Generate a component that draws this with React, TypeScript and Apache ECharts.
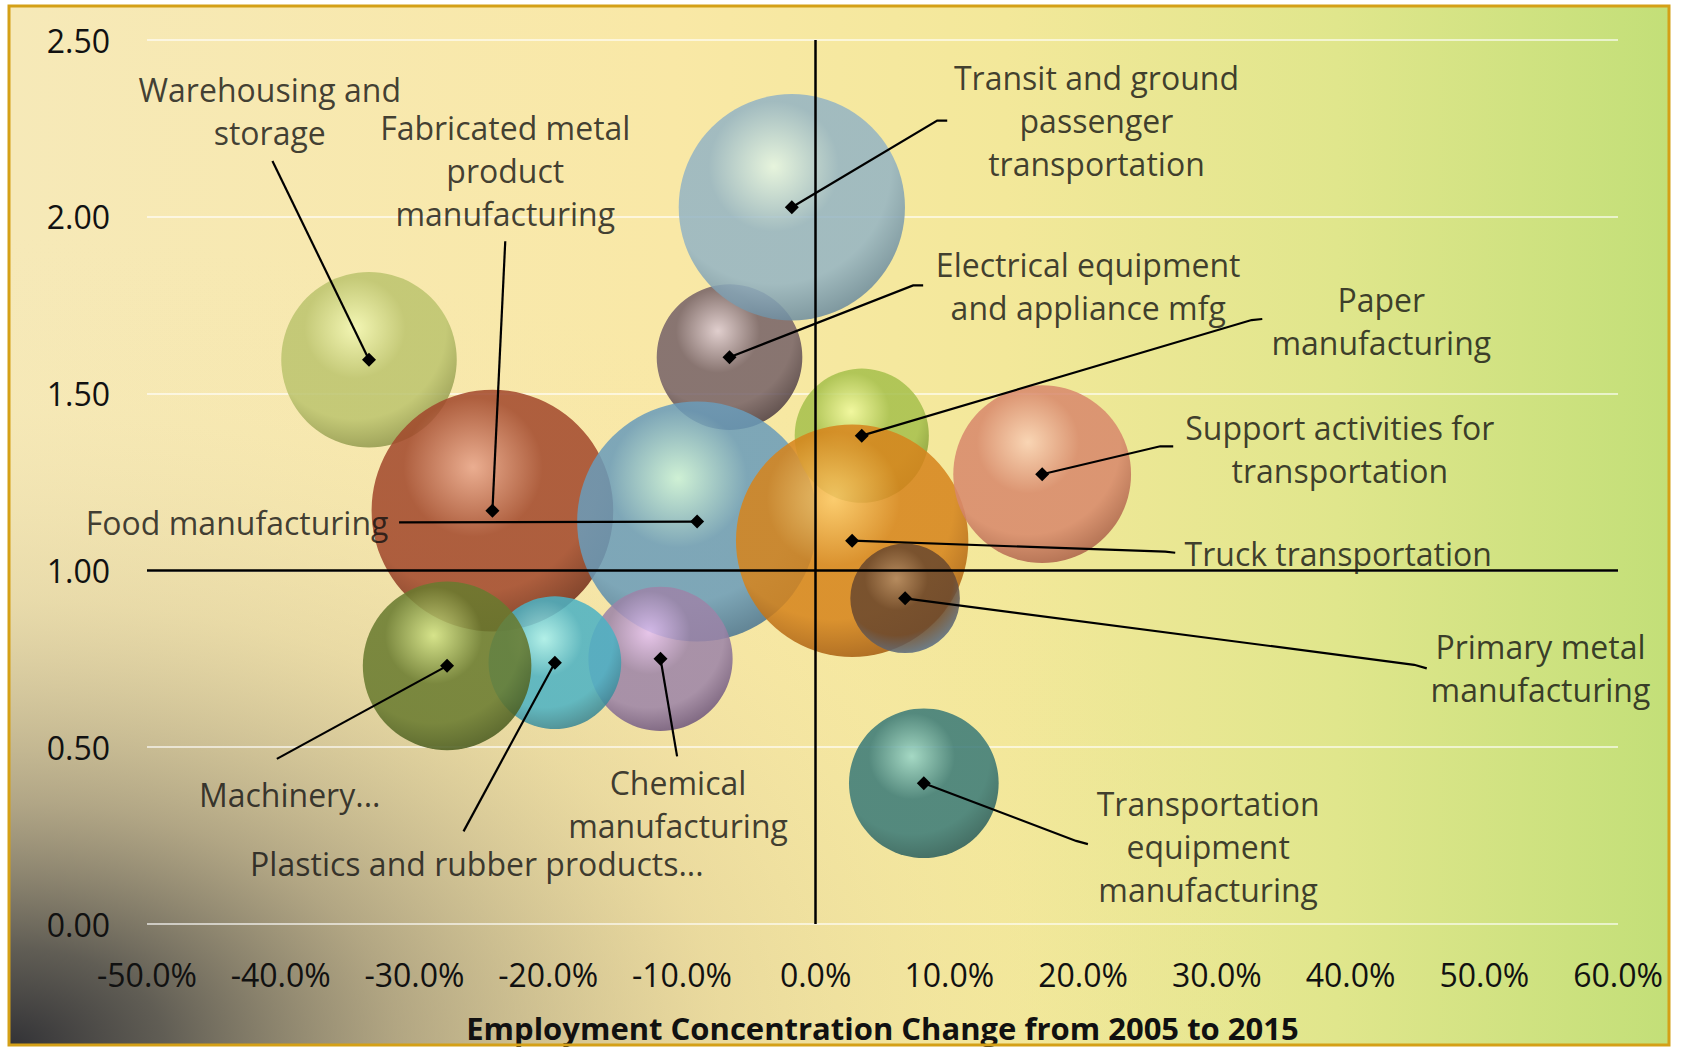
import React, { useEffect, useRef } from "react";
import * as echarts from "echarts";

// ---- Data ----
const industries = [
  "Electrical equipment and appliance mfg",
  "Transit and ground passenger transportation",
  "Warehousing and storage",
  "Fabricated metal product manufacturing",
  "Food manufacturing",
  "Chemical manufacturing",
  "Plastics and rubber products...",
  "Machinery...",
  "Paper manufacturing",
  "Truck transportation",
  "Primary metal manufacturing",
  "Support activities for transportation",
  "Transportation equipment manufacturing",
];
// Employment concentration change 2005-2015 (%)
const concentrationChange = [-6.44, -1.78, -33.4, -24.17, -8.86, -11.6, -19.5, -27.56, 3.45, 2.73, 6.69, 16.94, 8.09];
// Location quotient
const locationQuotient = [1.603, 2.027, 1.596, 1.169, 1.138, 0.75, 0.739, 0.73, 1.381, 1.084, 0.921, 1.272, 0.398];
// Bubble size (relative employment)
const bubbleSize = [53, 128, 77, 146, 144, 52, 44, 71, 45, 135, 30, 79, 56];

const xTicks = { min: -50, max: 60, interval: 10 };
const yTicks = { min: 0, max: 2.5, interval: 0.5 };

// ---- Annotation layout (data coordinates of label centres and leader paths) ----
const labelText = [
  "Electrical equipment\nand appliance mfg",
  "Transit and ground\npassenger\ntransportation",
  "Warehousing and\nstorage",
  "Fabricated metal\nproduct\nmanufacturing",
  "Food manufacturing",
  "Chemical\nmanufacturing",
  "Plastics and rubber products...",
  "Machinery...",
  "Paper\nmanufacturing",
  "Truck transportation",
  "Primary metal\nmanufacturing",
  "Support activities for\ntransportation",
  "Transportation\nequipment\nmanufacturing",
];
const labelX = [20.38, 21.0, -40.82, -23.21, -43.26, -10.29, -25.33, -39.33, 42.3, 39.08, 54.2, 39.2, 29.35];
const labelY = [1.805, 2.272, 2.3, 2.13, 1.136, 0.338, 0.172, 0.365, 1.705, 1.048, 0.723, 1.344, 0.22];
const leaderPoints: number[][][] = [
  [[7.29, 1.806], [8.04, 1.806]],
  [[9.09, 2.272], [9.84, 2.272]],
  [[-40.62, 2.158]],
  [[-23.21, 1.931]],
  [[-31.15, 1.136]],
  [[-10.36, 0.474]],
  [[-26.33, 0.262]],
  [[-40.29, 0.467]],
  [[32.6, 1.708], [33.4, 1.711]],
  [[26.14, 1.053], [26.89, 1.05]],
  [[44.76, 0.733], [45.7, 0.723]],
  [[25.77, 1.351], [26.74, 1.351]],
  [[19.48, 0.235], [20.36, 0.226]],
];

// ---- Styles ----
// [highlight, base, dark edge]
const bubbleColors = [
  ["#dccad4", "#766268", "#46363e"],
  ["#e4f6e6", "#94b4c4", "#66869a"],
  ["#f2f8b4", "#bcc46e", "#8a9248"],
  ["#e8a48c", "#a2482c", "#6a2816"],
  ["#c8f2dc", "#6a9cba", "#46708e"],
  ["#e4c0f4", "#9c84a8", "#685078"],
  ["#a8f2f2", "#4cb2c4", "#36808e"],
  ["#d2e486", "#687a2e", "#44561c"],
  ["#f0fa9e", "#a6c04c", "#78902e"],
  ["#fcc866", "#d6841c", "#9e560e"],
  ["#b08a66", "#6a482e", "#56708e"],
  ["#fad2b8", "#d8886c", "#a65c46"],
  ["#98d6ca", "#3a7a78", "#265858"],
];
const FONT = "Open Sans";
const TEXT = "#111111";

function sphere(c: string[]) {
  return {
    type: "radial",
    x: 0.42,
    y: 0.32,
    r: 0.72,
    colorStops: [
      { offset: 0, color: c[0] },
      { offset: 0.4, color: c[1] },
      { offset: 0.72, color: c[1] },
      { offset: 1, color: c[2] },
    ],
  };
}

export default function App() {
  const ref = useRef<HTMLDivElement>(null);
  useEffect(() => {
    if (!ref.current) return;
    const chart = echarts.init(ref.current, undefined, { renderer: "svg" });
    const W = 1682;
    const H = 1048;
    const frame = { x: 9, y: 6, width: W - 9 - 13, height: H - 6 - 3 };

    const bubbleData = industries.map((name, i) => ({
      name,
      value: [concentrationChange[i], locationQuotient[i], bubbleSize[i]],
      itemStyle: { color: sphere(bubbleColors[i]) },
    }));
    const pointData = industries.map((name, i) => ({ name, value: [concentrationChange[i], locationQuotient[i]] }));
    const leaderData = industries.map((name, i) => ({
      name,
      coords: [[concentrationChange[i], locationQuotient[i]], ...leaderPoints[i]],
    }));
    const labelData = industries.map((name, i) => ({
      name,
      value: [labelX[i], labelY[i]],
      label: labelText[i].indexOf("\n") < 0 ? { lineHeight: 34 } : undefined,
    }));

    chart.setOption({
      animation: false,
      textStyle: { fontFamily: FONT },
      grid: { left: 147, right: 64, top: 40, bottom: 118, containLabel: false },
      graphic: [
        {
          type: "rect",
          z: -20,
          silent: true,
          shape: frame,
          style: {
            fill: {
              type: "linear",
              x: 0,
              y: 0,
              x2: 1,
              y2: 0,
              colorStops: [
                { offset: 0, color: "#f6e9b8" },
                { offset: 0.4, color: "#f9e8a6" },
                { offset: 0.6, color: "#f3e89a" },
                { offset: 0.8, color: "#e0e68c" },
                { offset: 1, color: "#c3df78" },
              ],
            },
          },
        },
        {
          type: "rect",
          z: -19,
          silent: true,
          shape: frame,
          style: {
            fill: {
              type: "radial",
              x: 0,
              y: 1,
              r: 0.78,
              colorStops: [
                { offset: 0, color: "rgba(50,50,54,1)" },
                { offset: 0.12, color: "rgba(80,78,74,0.9)" },
                { offset: 0.3, color: "rgba(135,125,104,0.62)" },
                { offset: 0.55, color: "rgba(200,185,140,0.3)" },
                { offset: 0.8, color: "rgba(240,225,170,0.08)" },
                { offset: 1, color: "rgba(240,225,170,0)" },
              ],
            },
          },
        },
        {
          type: "rect",
          z: 100,
          silent: true,
          shape: frame,
          style: { fill: "none", stroke: "#d4a017", lineWidth: 3 },
        },
      ],
      xAxis: {
        type: "value",
        min: xTicks.min,
        max: xTicks.max,
        interval: xTicks.interval,
        axisLine: { show: false },
        axisTick: { show: false },
        splitLine: { show: false },
        axisLabel: {
          formatter: (v: number) => v.toFixed(1) + "%",
          fontSize: 32,
          color: TEXT,
          margin: 34,
          fontFamily: FONT,
        },
        name: "Employment Concentration Change from 2005 to 2015",
        nameLocation: "middle",
        nameGap: 88,
        nameTextStyle: { fontSize: 31, fontWeight: "bold", color: TEXT, fontFamily: FONT },
      },
      yAxis: {
        type: "value",
        min: yTicks.min,
        max: yTicks.max,
        interval: yTicks.interval,
        axisLine: { show: false },
        axisTick: { show: false },
        splitLine: { show: true, lineStyle: { color: "rgba(255,255,255,0.6)", width: 2 } },
        axisLabel: {
          formatter: (v: number) => v.toFixed(2),
          fontSize: 32,
          color: TEXT,
          margin: 37,
          fontFamily: FONT,
        },
      },
      series: [
        {
          type: "scatter",
          z: 1,
          data: [],
          silent: true,
          markLine: {
            silent: true,
            symbol: ["none", "none"],
            label: { show: false },
            lineStyle: { color: "#000", width: 2.5, type: "solid" },
            data: [{ xAxis: 0 }, { yAxis: 1 }],
          },
        },
        {
          type: "scatter",
          z: 2,
          silent: true,
          data: bubbleData,
          symbolSize: (val: number[]) => 20 * Math.sqrt(val[2]),
          itemStyle: { opacity: 0.86 },
        },
        {
          type: "lines",
          coordinateSystem: "cartesian2d",
          polyline: true,
          z: 3,
          silent: true,
          data: leaderData,
          lineStyle: { color: "#000", width: 2.2, opacity: 1, curveness: 0 },
        },
        {
          type: "scatter",
          z: 4,
          silent: true,
          symbol: "diamond",
          symbolSize: 14,
          itemStyle: { color: "#000", opacity: 1 },
          data: pointData,
        },
        {
          type: "scatter",
          z: 5,
          silent: true,
          symbolSize: 1,
          itemStyle: { color: "rgba(0,0,0,0)" },
          data: labelData,
          label: {
            show: true,
            position: "inside",
            formatter: (p: any) => labelText[p.dataIndex],
            fontSize: 32,
            lineHeight: 43,
            color: TEXT,
            fontFamily: FONT,
            align: "center",
            verticalAlign: "middle",
          },
        },
      ],
    });
    return () => chart.dispose();
  }, []);
  return (
    <div
      ref={ref}
      style={{ position: "fixed", left: 0, top: 0, width: "1682px", height: "1048px", background: "#fff" }}
    />
  );
}
